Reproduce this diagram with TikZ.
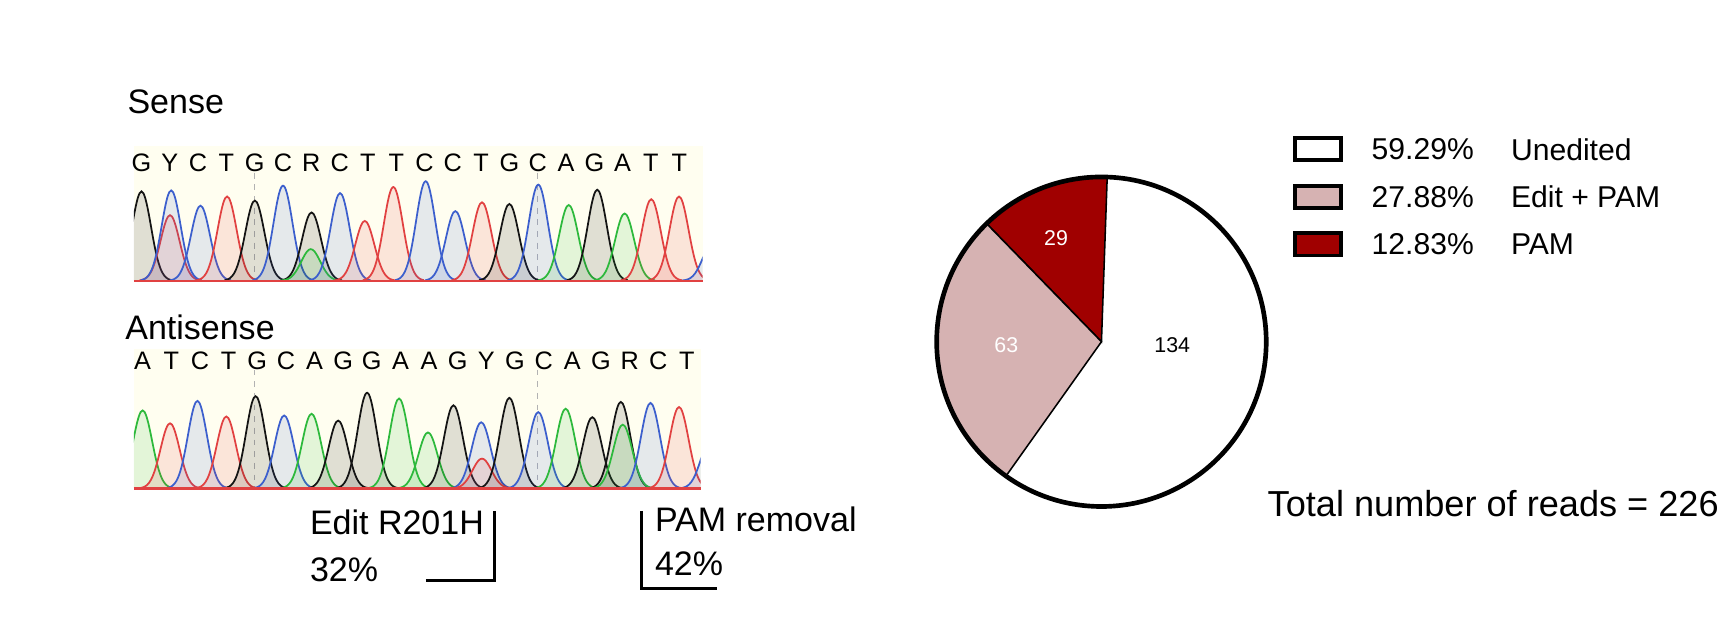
\documentclass[tikz,border=0pt]{standalone}
\usepackage{fontspec}
\setmainfont{Liberation Sans}
\definecolor{cB}{RGB}{60,95,205}
\definecolor{cR}{RGB}{225,65,65}
\definecolor{cG}{RGB}{45,185,60}
\definecolor{cK}{RGB}{20,20,20}
\definecolor{pam}{RGB}{160,0,0}
\definecolor{editpam}{RGB}{214,178,178}
\newcommand\pk[4]{%
  \pgfmathsetmacro\pka{#1-80}\pgfmathsetmacro\pkb{#1+80}%
  \fill[#3,opacity=0.13] plot[domain=\pka:\pkb,samples=33,smooth] (\x,{#4-(#4-#2)*exp(-((\x-#1)/25)^2/2)}) -- cycle;
  \draw[#3,line width=0.9pt] plot[domain=\pka:\pkb,samples=33,smooth] (\x,{#4-(#4-#2)*exp(-((\x-#1)/25)^2/2)});}
\tikzset{lbl/.style={font=\fontsize{17.5}{19}\selectfont,inner sep=0pt},
 seq/.style={font=\fontsize{13}{15}\selectfont,inner sep=0pt},
 leg/.style={font=\fontsize{15.5}{17}\selectfont,inner sep=0pt,anchor=west},
 lbox/.style={draw=black,line width=2pt}}
\begin{document}
\begin{tikzpicture}[x=0.02cm,y=0.02cm]
\useasboundingbox (0,0) rectangle (1568,-576);
\node[lbl,anchor=west] (sense) at (115,-92) {Sense};
\node[lbl,anchor=west] (anti) at (113,-296) {Antisense};
\begin{scope}[shift={(105.6,-125.5)},xscale=0.344,yscale=-0.307]
 \fill[yellow!6] (45,20) rectangle (1540,418);
 \fill[yellow!6] (45,620) rectangle (1535,1030);
 \draw[gray!60,dashed,thin] (363,100)--(363,418) (1105,100)--(1105,418) (363,680)--(363,1030) (1105,680)--(1105,1030);
 \begin{scope}
 \clip (45,100) rectangle (1540,420);
 \foreach \c/\t/\col in {65/155/cK,140/225/cR,143/152/cB,220/197/cB,290/170/cR,363/182/cK,437/138/cB,512/217/cK,510/325/cG,587/160/cB,652/242/cR,727/142/cR,812/125/cB,890/213/cB,960/187/cR,1032/192/cK,1108/135/cB,1188/195/cG,1263/150/cK,1335/220/cG,1405/178/cR,1478/170/cR,1565/310/cB}
   {\pk{\c}{\t}{\col}{418}}
 \end{scope}
 \begin{scope}
 \clip (45,700) rectangle (1535,1032);
 \foreach \c/\t/\col in {68/800/cG,140/838/cR,212/772/cB,288/818/cR,365/758/cK,440/815/cB,512/810/cG,582/830/cK,658/748/cK,742/765/cG,818/865/cG,885/785/cK,958/835/cB,960/942/cR,1032/763/cK,1108/805/cB,1180/795/cG,1250/820/cK,1325/775/cK,1330/842/cG,1403/778/cB,1478/790/cR,1560/890/cB}
   {\pk{\c}{\t}{\col}{1030}}
 \end{scope}
 \draw[cR,line width=1.2pt] (45,418)--(1540,418) (45,1030)--(1535,1030);
 \foreach \l [count=\i from 0] in {G,Y,C,T,G,C,R,C,T,T,C,C,T,G,C,A,G,A,T,T}
   {\node[seq] (s\i) at ({65+74.4*\i},70) {\l};}
 \foreach \l [count=\i from 0] in {A,T,C,T,G,C,A,G,G,A,A,G,Y,G,C,A,G,R,C,T}
   {\node[seq] (a\i) at ({68+75.3*\i},655) {\l};}
\end{scope}
% annotations
\node[lbl,anchor=west] (edit) at (280,-472) {Edit R201H};
\node[lbl,anchor=west] (e32) at (280,-515) {32\%};
\coordinate (e1) at (385,-525); \coordinate (e2) at (447,-525); \coordinate (e3) at (447,-462);
\draw[line width=1.6pt] (e1)--(e2)--(e3);
\node[lbl,anchor=west] (pamr) at (592,-470) {PAM removal};
\node[lbl,anchor=west] (p42) at (592,-510) {42\%};
\coordinate (p1) at (580,-462); \coordinate (p2) at (580,-532); \coordinate (p3) at (648,-532);
\draw[line width=1.6pt] (p1)--(p2)--(p3);
% pie
\coordinate (pc) at (996,-309);
\fill[white] (pc) circle (149);
\fill[pam,draw=black,line width=0.8pt] (pc) -- ++(88:149) arc (88:134.2:149) -- cycle;
\fill[editpam,draw=black,line width=0.8pt] (pc) -- ++(134.2:149) arc (134.2:234.6:149) -- cycle;
\draw[line width=2.4pt] (pc) circle (149);
\node[font=\fontsize{11}{12}\selectfont,text=white] (n29) at (955,-215) {29};
\node[font=\fontsize{11}{12}\selectfont,text=white] (n63) at (910,-312) {63};
\node[font=\fontsize{11}{12}\selectfont] (n134) at (1060,-312) {134};
% legend
\draw[lbox,fill=white] (1171,-125) rectangle (1213,-145);
\draw[lbox,fill=editpam] (1171,-168) rectangle (1213,-188);
\draw[lbox,fill=pam] (1171,-211) rectangle (1213,-231);
\node[leg] (l1) at (1240,-135) {59.29\%};
\node[leg] (l1b) at (1366,-135) {Unedited};
\node[leg] (l2) at (1240,-178) {27.88\%};
\node[leg] (l2b) at (1366,-178) {Edit + PAM};
\node[leg] (l3) at (1240,-221) {12.83\%};
\node[leg] (l3b) at (1366,-221) {PAM};
\node[font=\fontsize{18.6}{21}\selectfont,inner sep=0pt,anchor=west] (tot) at (1146,-455) {Total number of reads = 226};
\end{tikzpicture}
\end{document}
